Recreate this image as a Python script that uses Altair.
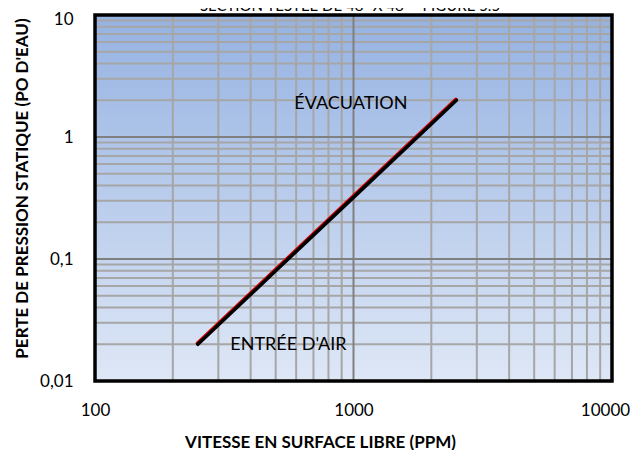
import altair as alt
import pandas as pd

# ---- data ----
line_x = [250, 500, 1000, 2000, 2500]
line_y = [0.02, 0.08, 0.32, 1.28, 2.0]

x_minor = [200, 300, 400, 500, 600, 700, 800, 900,
           2000, 3000, 4000, 5000, 6000, 7000, 8000, 9000]
x_major = [1000]
y_minor = [0.02, 0.03, 0.04, 0.05, 0.06, 0.07, 0.08, 0.09,
           0.2, 0.3, 0.4, 0.5, 0.6, 0.7, 0.8, 0.9,
           2, 3, 4, 5, 6, 7, 8, 9]
y_major = [0.1, 1]

x_ticks = [100, 1000, 10000]
y_ticks = [0.01, 0.1, 1, 10]
x_domain = [100, 10000]
y_domain = [0.01, 10]

labels_text = ["ÉVACUATION", "ENTRÉE D'AIR"]
labels_x = [977, 560]
labels_y = [1.86, 0.0197]

title_text = 'SECTION TESTÉE DE 48" X 48" - FIGURE 5.5'
x_title = "VITESSE EN SURFACE LIBRE (PPM)"
y_title = "PERTE DE PRESSION STATIQUE (PO D'EAU)"

FONT = "Lato"
W, H = 517, 366

box = pd.DataFrame({"x": [x_domain[0]], "x2": [x_domain[1]],
                    "y": [y_domain[0]], "y2": [y_domain[1]]})
line_df = pd.DataFrame({"x": line_x, "y": line_y})
lab_df = pd.DataFrame({"t": labels_text, "x": labels_x, "y": labels_y})

xs = alt.Scale(type="log", domain=x_domain, nice=False)
ys = alt.Scale(type="log", domain=y_domain, nice=False)

x_axis = alt.Axis(values=x_ticks, grid=False, ticks=False, domain=False,
                  labelExpr="toString(datum.value)",
                  labelFont=FONT, labelFontSize=17, labelColor="#000000",
                  labelPadding=21, labelFlush=False,
                  labelOffset=alt.ExprRef("datum.value == 10000 ? -7 : 0"),
                  title=x_title, titleFont=FONT, titleFontSize=17,
                  titleFontWeight="bold", titleColor="#000000",
                  titleX=225, titleY=61, titleBaseline="middle",
                  titleAnchor="start", titleAlign="center")
y_axis = alt.Axis(values=y_ticks, grid=False, ticks=False, domain=False,
                  labelFont=FONT, labelFontSize=17, labelColor="#000000",
                  labelPadding=22, labelFlush=False,
                  labelOffset=alt.ExprRef("datum.value == 10 ? 4 : 0"),
                  labelExpr="replace(toString(datum.value), '.', ',')",
                  title=y_title, titleFont=FONT, titleFontSize=17,
                  titleFontWeight="bold", titleColor="#000000",
                  titleX=-73, titleY=173, titleBaseline="middle",
                  titleAnchor="start", titleAlign="center")

bg = alt.Chart(box).mark_rect(
    fill=alt.Gradient(gradient="linear",
                      stops=[alt.GradientStop(color="#95B2E2", offset=0),
                             alt.GradientStop(color="#DEE7F6", offset=1)],
                      x1=0, x2=0, y1=0, y2=1)
).encode(
    x=alt.X("x:Q", scale=xs, axis=x_axis),
    x2="x2:Q",
    y=alt.Y("y:Q", scale=ys, axis=y_axis),
    y2="y2:Q",
)

vminor = alt.Chart(pd.DataFrame({"v": x_minor})).mark_rule(
    color="#A6A6A6", strokeWidth=2).encode(x=alt.X("v:Q", scale=xs))
vmajor = alt.Chart(pd.DataFrame({"v": x_major})).mark_rule(
    color="#808080", strokeWidth=2).encode(x=alt.X("v:Q", scale=xs))
hminor = alt.Chart(pd.DataFrame({"v": y_minor})).mark_rule(
    color="#A6A6A6", strokeWidth=2).encode(y=alt.Y("v:Q", scale=ys))
hmajor = alt.Chart(pd.DataFrame({"v": y_major})).mark_rule(
    color="#808080", strokeWidth=2).encode(y=alt.Y("v:Q", scale=ys))

red = alt.Chart(line_df).mark_line(
    color="#E00000", strokeWidth=3.5, yOffset=-1, xOffset=-0.5,
    strokeCap="round").encode(
    x=alt.X("x:Q", scale=xs), y=alt.Y("y:Q", scale=ys))
black = alt.Chart(line_df).mark_line(
    color="#000000", strokeWidth=3.5, strokeCap="round").encode(
    x=alt.X("x:Q", scale=xs), y=alt.Y("y:Q", scale=ys))

labels = alt.Chart(lab_df).mark_text(
    font=FONT, fontSize=18, color="#000000", align="center",
    baseline="middle").encode(
    x=alt.X("x:Q", scale=xs), y=alt.Y("y:Q", scale=ys), text="t:N")

top_title = alt.Chart(pd.DataFrame({"t": [title_text]})).mark_text(
    font=FONT, fontSize=15, color="#000000", align="center",
    baseline="alphabetic").encode(
    x=alt.value(255), y=alt.value(-4), text="t:N")

border = alt.Chart(box).mark_rect(
    fillOpacity=0, stroke="#000000", strokeWidth=3.5).encode(
    x=alt.X("x:Q", scale=xs), x2="x2:Q",
    y=alt.Y("y:Q", scale=ys), y2="y2:Q")

chart = alt.layer(
    bg, hminor, vminor, hmajor, vmajor, red, black, labels, top_title, border
).properties(
    width=W, height=H,
    autosize=alt.AutoSizeParams(type="none"),
    padding={"left": 87, "top": 7, "right": 19, "bottom": 69},
).configure_view(stroke=None).configure(background="#FFFFFF")

chart.save("out.html", embed_options={"renderer": "svg", "actions": False})
